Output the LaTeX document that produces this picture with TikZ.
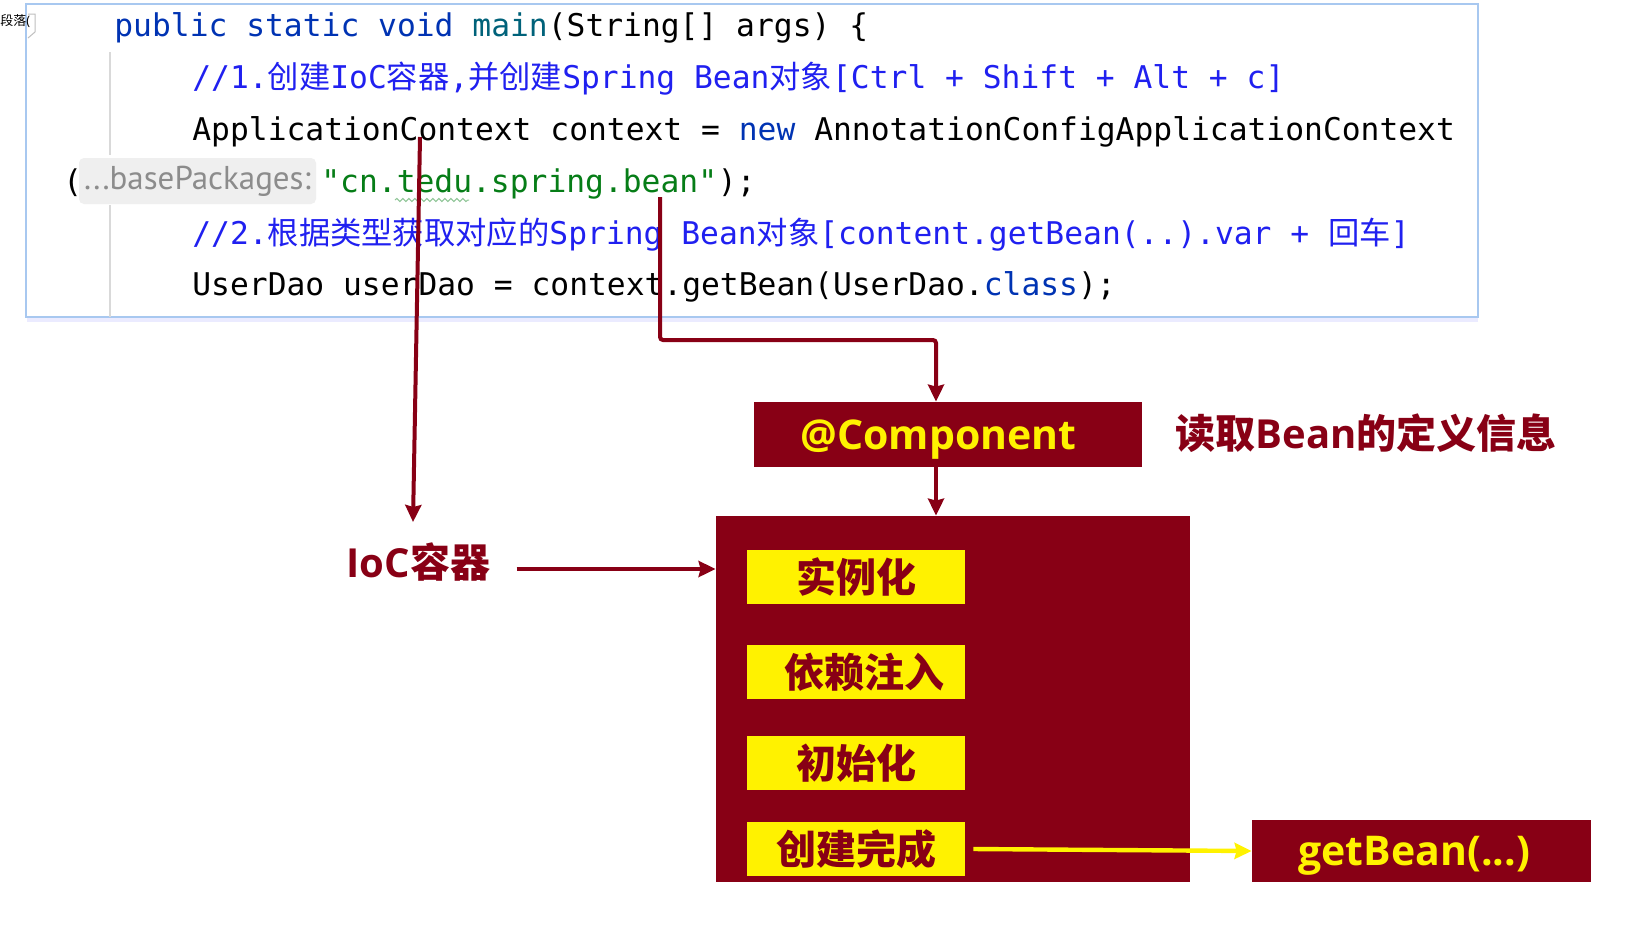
\documentclass[tikz,border=0pt]{standalone}
\usepackage{fontspec}
\setmainfont{Open Sans}
\setmonofont{DejaVu Sans Mono}
\newfontfamily\cjk{Noto Sans CJK SC}
\newfontfamily\hintfont{PT Sans}
\usetikzlibrary{arrows.meta,decorations.pathmorphing}

\definecolor{dred}{HTML}{880015}
\definecolor{yel}{HTML}{FFF200}
\definecolor{kw}{HTML}{0033B3}
\definecolor{fn}{HTML}{00627A}
\definecolor{cmt}{HTML}{2020F0}
\definecolor{str}{HTML}{067D17}
\definecolor{hintgray}{HTML}{8C8C8C}
\definecolor{hintbg}{HTML}{EFEFEF}
\definecolor{panelblue}{HTML}{A8C8F0}

\newcommand{\zh}[1]{{\cjk #1}}

\begin{document}
\begin{tikzpicture}[x=0.5pt, y=-0.5pt,
        code/.style={anchor=base west, inner sep=0pt, font=\ttfamily\fontsize{15.65pt}{18pt}\selectfont},
        redbox/.style={fill=dred, text=yel, inner sep=0pt, text height=16pt, text depth=1.4pt, font=\bfseries\fontsize{20.5pt}{24pt}\selectfont},
        stepbox/.style={fill=yel, text=dred, minimum width=109pt, minimum height=27pt, inner sep=0pt, font=\bfseries\fontsize{20pt}{24pt}\selectfont},
        redlabel/.style={text=dred, inner sep=0pt, font=\bfseries\fontsize{20pt}{24pt}\selectfont},
        arr/.style={draw=dred, line width=2pt, -{Stealth[inset=1pt, length=8.5pt, width=8pt]}},
        yarr/.style={draw=yel, line width=2.2pt, -{Stealth[inset=1pt, length=8.5pt, width=8pt]}}]
    \useasboundingbox (0,0) rectangle (1632,944);
    \fill[white] (0,0) rectangle (1632,944);

    % code panel
    \draw[blue!8, line width=2pt] (27,320) -- (1478,320);
    \draw[panelblue, fill=white, line width=0.8pt] (26,4) rectangle (1478,317);
    \node[anchor=west, inner sep=0pt, font=\fontsize{6.5pt}{7pt}\selectfont] (para) at (0,21) {\zh{段落}(};
    \draw[gray!50, line width=0.5pt] (28,14) -- (35,14) -- (35,32) -- (28,38);
    \draw[gray!30, line width=0.6pt] (110,52) -- (110,155) (110,205) -- (110,317);

    \node[code] (l1) at (114,36) {\color{kw}public static void \color{fn}main\color{black}(String[] args) \{};
    \node[code, text=cmt] (l2) at (192,88) {//1.\zh{创建}IoC\zh{容器},\zh{并创建}Spring Bean\zh{对象}[Ctrl + Shift + Alt + c]};
    \node[code] (l3) at (192,140) {ApplicationContext context = {\color{kw}new} AnnotationConfigApplicationContext};
    \node[code] (l4) at (63,192) {(};
    \node[fill=hintbg, rounded corners=2.5pt, minimum width=118.5pt, minimum height=23pt, inner sep=0pt,
        text=hintgray, font=\hintfont\fontsize{16.5pt}{18pt}\selectfont] (hint) at (197.5,181) {...basePackages:};
    \node[code, text=str] (pkg) at (321,192) {"cn.tedu.spring.bean"};
    \node[code] (l4e) at (pkg.base east) {);};
    \draw[str!45, line width=0.5pt, decorate, decoration={snake, amplitude=0.8pt, segment length=3pt}] (395,200) -- (469,200);
    \node[code, text=cmt] (l5) at (192,244) {//2.\zh{根据类型获取对应的}Spring Bean\zh{对象}[content.getBean(..).var + \zh{回车}]};
    \node[code] (l6) at (192,295) {UserDao userDao = context.getBean(UserDao.{\color{kw}class});};

    % bean life cycle
    \node[redbox, minimum width=194pt, minimum height=32.5pt] (comp) at (948,434.5) {\hspace*{-9.4pt}@Component};
    \node[redlabel] (readinfo) at (1366,433) {\zh{读取}Bean\zh{的定义信息}};
    \node[redbox, minimum width=237pt, minimum height=183pt] (bean) at (953,699) {};
    \foreach \i/\yy/\dx/\txt in {1/577/0/实例化, 2/672/8/依赖注入, 3/763/0/初始化, 4/849/0/创建完成}
        \node[stepbox] (s\i) at (856,\yy) {\hspace*{\dx pt}\zh{\txt}};
    \node[redbox, minimum width=169.5pt, minimum height=31pt] (getb) at (1421.5,851) {\hspace*{-7.3pt}getBean(...)};
    \node[redlabel] (ioc) at (418.5,562) {IoC\zh{容器}};

    \coordinate (ctxstart) at (420,137);
    \coordinate (iocin) at (413,522);
    \coordinate (beanstart) at (660,197);
    \coordinate (bend) at (936,340);
    \coordinate (iocout) at ([xshift=13pt, yshift=-3.5pt]ioc.east);
    \draw[arr] (ctxstart) -- (iocin);
    \draw[arr, rounded corners=1.5pt] (beanstart) |- (bend) -- (bend |- comp.north);
    \draw[arr] (comp.south -| bend) -- (bean.north -| bend);
    \draw[arr] (iocout) -- (iocout -| bean.west);
    \draw[yarr] ([xshift=4pt]s4.east) -- (getb.west);
\end{tikzpicture}
\end{document}
